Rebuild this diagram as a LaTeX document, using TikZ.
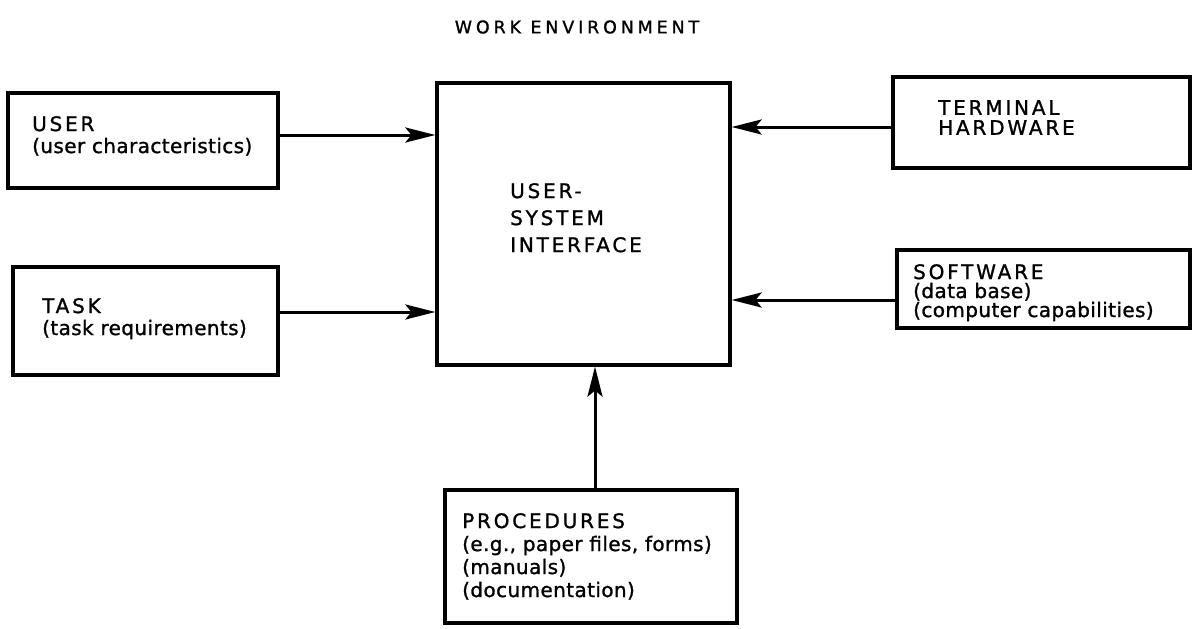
\documentclass[tikz,border=0pt]{standalone}
\usepackage{fontspec}
\setmainfont{DejaVu Sans}[LetterSpace=2,FakeBold=1.2]
\newfontfamily\capfam{DejaVu Sans}[LetterSpace=14,FakeBold=1.2]
\newfontfamily\titlefam{DejaVu Sans}[LetterSpace=22,FakeBold=1.2]
\usetikzlibrary{arrows.meta}
\begin{document}
\begin{tikzpicture}[x=1pt,y=-1pt,
  box/.style={draw, line width=3.2pt, inner sep=0pt},
  txt/.style={anchor=north west, align=left, inner sep=0pt},
  arr/.style={line width=3pt, -{Stealth[length=30pt,width=15pt,inset=6pt]}}]
\useasboundingbox (0,0) rectangle (1197,629);
% title
\node[inner sep=0pt, font=\titlefam\fontsize{17.5}{19}\selectfont] (title) at (577,27) {WORK ENVIRONMENT};
% boxes
\node[box, minimum width=270pt, minimum height=95pt]  (user) at (143,140.5) {};
\node[box, minimum width=265pt, minimum height=108pt] (task) at (145.5,321) {};
\node[box, minimum width=293pt, minimum height=282pt] (usi)  at (583.5,224) {};
\node[box, minimum width=297pt, minimum height=91pt]  (term) at (1041.5,122.5) {};
\node[box, minimum width=293pt, minimum height=78pt]  (soft) at (1043.5,289) {};
\node[box, minimum width=292pt, minimum height=133pt] (proc) at (591,556.5) {};
% texts
\node[txt, font=\fontsize{20}{22}\selectfont] (usertxt) at (32,116) {{\capfam USER}\\(user characteristics)};
\node[txt, font=\fontsize{20}{22}\selectfont] (tasktxt) at (42,298) {{\capfam TASK}\\(task requirements)};
\node[txt, font=\capfam\fontsize{20}{27}\selectfont] (usitxt) at (510,183) {USER-\\SYSTEM\\INTERFACE};
\node[txt, font=\capfam\fontsize{20}{20}\selectfont] (termtxt) at (938,100) {TERMINAL\\HARDWARE};
\node[txt, font=\fontsize{20}{19}\selectfont] (softtxt) at (913,264) {{\capfam SOFTWARE}\\(data base)\\(computer capabilities)};
\node[txt, font=\fontsize{20}{23}\selectfont] (proctxt) at (462,513) {{\capfam PROCEDURES}\\(e.g., paper files, forms)\\(manuals)\\(documentation)};
% connectors
\draw[arr] ([yshift=5.5pt]user.east) -- ([yshift=5.5pt]user.east -| usi.west);
\draw[arr] ([yshift=9pt]task.east) -- ([yshift=9pt]task.east -| usi.west);
\draw[arr] ([yshift=-4.5pt]term.west) -- ([yshift=-4.5pt]term.west -| usi.east);
\draw[arr] ([yshift=-11pt]soft.west) -- ([yshift=-11pt]soft.west -| usi.east);
\draw[arr] ([xshift=4pt]proc.north) -- ([xshift=4pt]proc.north |- usi.south);
\end{tikzpicture}
\end{document}
